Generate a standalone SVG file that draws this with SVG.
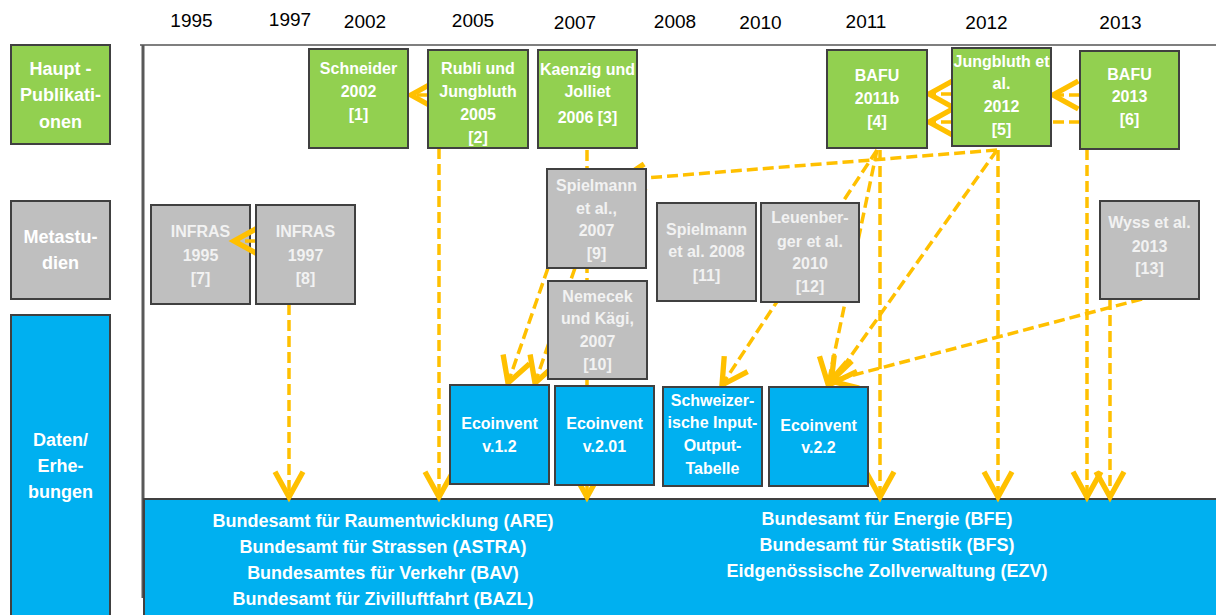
<svg xmlns="http://www.w3.org/2000/svg" width="1216" height="615" viewBox="0 0 1216 615">
<style>
.yr{font-family:"Liberation Sans",Arial,sans-serif;font-size:19px;fill:#000;text-anchor:middle}
.box{stroke:#404040;stroke-width:2}
.g{fill:#92d050}.gr{fill:#bfbfbf}.b{fill:#00b0f0}
.t{font-family:"Liberation Sans",Arial,sans-serif;font-weight:bold;font-size:16px;fill:#fff;text-anchor:middle}
.tg{fill:#f2f2f2}
.lab{font-family:"Liberation Sans",Arial,sans-serif;font-weight:bold;font-size:18px;fill:#fff;text-anchor:middle}
.big{font-family:"Liberation Sans",Arial,sans-serif;font-weight:bold;font-size:18px;fill:#fff;text-anchor:middle}
.c{fill:none;stroke:#ffc000;stroke-width:3.5;stroke-dasharray:11 5;marker-end:url(#ah)}
</style>
<defs>
<marker id="ah" markerUnits="userSpaceOnUse" markerWidth="40" markerHeight="40" viewBox="-25 -15 30 30" refX="0" refY="0" orient="auto" overflow="visible">
<path d="M-19,-10.5 L0,0 L-19,10.5" fill="none" stroke="#ffc000" stroke-width="4" stroke-dasharray="none"/>
</marker>
</defs>
<rect width="1216" height="615" fill="#fff"/>
<g id="years">
<text class="yr" x="191.5" y="27">1995</text>
<text class="yr" x="290" y="26">1997</text>
<text class="yr" x="365" y="28">2002</text>
<text class="yr" x="473" y="27">2005</text>
<text class="yr" x="575" y="29">2007</text>
<text class="yr" x="675" y="28">2008</text>
<text class="yr" x="760.5" y="29">2010</text>
<text class="yr" x="866" y="28">2011</text>
<text class="yr" x="986.5" y="29">2012</text>
<text class="yr" x="1120.5" y="29">2013</text>
</g>
<g id="axes">
<line x1="140" y1="45" x2="1216" y2="45" stroke="#7f7f7f" stroke-width="2"/>
<line x1="143" y1="45" x2="143" y2="598" stroke="#595959" stroke-width="3"/>
</g>
<g id="labels">
<g id="lab-haupt"><rect class="box g" x="11" y="45" width="99" height="99"/>
<text class="lab" x="60.5" y="75">Haupt -</text><text class="lab" x="60.5" y="101">Publikati-</text><text class="lab" x="60.5" y="128">onen</text></g>
<g id="lab-meta"><rect class="box gr" x="11" y="201" width="99" height="98"/>
<text class="lab tg" x="60.5" y="243">Metastu-</text><text class="lab tg" x="60.5" y="269">dien</text></g>
<g id="lab-daten"><rect class="box b" x="11" y="315" width="99" height="310"/>
<text class="lab" x="60.5" y="446">Daten/</text><text class="lab" x="60.5" y="472">Erhe-</text><text class="lab" x="60.5" y="498">bungen</text></g>
</g>
<g id="behoerden">
<rect class="box b" x="144" y="499" width="1080" height="130"/>
<text class="big" x="383" y="527">Bundesamt für Raumentwicklung (ARE)</text>
<text class="big" x="383" y="553">Bundesamt für Strassen (ASTRA)</text>
<text class="big" x="383" y="579">Bundesamtes für Verkehr (BAV)</text>
<text class="big" x="383" y="605">Bundesamt für Zivilluftfahrt (BAZL)</text>
<text class="big" x="887" y="525">Bundesamt für Energie (BFE)</text>
<text class="big" x="887" y="551">Bundesamt für Statistik (BFS)</text>
<text class="big" x="887" y="577">Eidgenössische Zollverwaltung (EZV)</text>
</g>
<g id="n7"><rect class="box gr" x="151" y="205" width="99" height="99"/>
<text class="t tg" x="200.5" y="237">INFRAS</text><text class="t tg" x="200.5" y="261">1995</text><text class="t tg" x="200.5" y="284">[7]</text></g>
<g id="connectors">
<path class="c" d="M428,95 L411,95"/>
<path class="c" d="M256,241 L234,241"/>
<path class="c" d="M952,94 L929,94"/>
<path class="c" d="M1080,122 L929,122"/>
<path class="c" d="M1080,95 L1053,95"/>
<path class="c" d="M289,304 L289,497"/>
<path class="c" d="M439,148 L439,497"/>
<path class="c" d="M587,150 L587,497"/>
<path class="c" d="M548,268 L508,383"/>
<path class="c" d="M575,268 L535,383"/>
<path class="c" d="M997,150 L620,180"/>
<path class="c" d="M877,150 L722,385"/>
<path class="c" d="M877,150 L828,384"/>
<path class="c" d="M880,150 L880,497"/>
<path class="c" d="M997,150 L831,384"/>
<path class="c" d="M998,150 L998,497"/>
<path class="c" d="M1142,299 L831,381"/>
<path class="c" d="M1087,149 L1087,497"/>
<path class="c" d="M1110,299 L1110,497"/>
</g>
<g id="n1"><rect class="box g" x="309" y="49" width="99" height="99"/>
<text class="t" x="358.5" y="74">Schneider</text><text class="t" x="358.5" y="97">2002</text><text class="t" x="358.5" y="120">[1]</text></g>
<g id="n2"><rect class="box g" x="428" y="50" width="100" height="98"/>
<text class="t" x="478" y="74">Rubli und</text><text class="t" x="478" y="97">Jungbluth</text><text class="t" x="478" y="120">2005</text><text class="t" x="478" y="143">[2]</text></g>
<g id="n3"><rect class="box g" x="538" y="50" width="99" height="98"/>
<text class="t" x="587.5" y="75">Kaenzig und</text><text class="t" x="587.5" y="97">Jolliet</text><text class="t" x="587.5" y="123">2006 [3]</text></g>
<g id="n4"><rect class="box g" x="827" y="50" width="100" height="98"/>
<text class="t" x="877" y="81">BAFU</text><text class="t" x="877" y="104">2011b</text><text class="t" x="877" y="127">[4]</text></g>
<g id="n5"><rect class="box g" x="952" y="48" width="99" height="98"/>
<text class="t" x="1001.5" y="67">Jungbluth et</text><text class="t" x="1001.5" y="89">al.</text><text class="t" x="1001.5" y="112">2012</text><text class="t" x="1001.5" y="135">[5]</text></g>
<g id="n6"><rect class="box g" x="1080" y="51" width="99" height="98"/>
<text class="t" x="1129.5" y="80">BAFU</text><text class="t" x="1129.5" y="102">2013</text><text class="t" x="1129.5" y="125">[6]</text></g>
<g id="n8"><rect class="box gr" x="256" y="205" width="99" height="99"/>
<text class="t tg" x="305.5" y="237">INFRAS</text><text class="t tg" x="305.5" y="261">1997</text><text class="t tg" x="305.5" y="284">[8]</text></g>
<g id="n9"><rect class="box gr" x="547" y="169" width="99" height="99"/>
<text class="t tg" x="596.5" y="191">Spielmann</text><text class="t tg" x="596.5" y="214">et al.,</text><text class="t tg" x="596.5" y="236">2007</text><text class="t tg" x="596.5" y="259">[9]</text></g>
<g id="n10"><rect class="box gr" x="548" y="281" width="99" height="98"/>
<text class="t tg" x="597.5" y="302">Nemecek</text><text class="t tg" x="597.5" y="324">und Kägi,</text><text class="t tg" x="597.5" y="347">2007</text><text class="t tg" x="597.5" y="370">[10]</text></g>
<g id="n11"><rect class="box gr" x="657" y="203" width="99" height="98"/>
<text class="t tg" x="706.5" y="235">Spielmann</text><text class="t tg" x="706.5" y="257">et al. 2008</text><text class="t tg" x="706.5" y="281">[11]</text></g>
<g id="n12"><rect class="box gr" x="761" y="203" width="98" height="99"/>
<text class="t tg" x="810" y="223">Leuenber-</text><text class="t tg" x="810" y="247">ger et al.</text><text class="t tg" x="810" y="269">2010</text><text class="t tg" x="810" y="292">[12]</text></g>
<g id="n13"><rect class="box gr" x="1100" y="201" width="99" height="98"/>
<text class="t tg" x="1149.5" y="228">Wyss et al.</text><text class="t tg" x="1149.5" y="252">2013</text><text class="t tg" x="1149.5" y="274">[13]</text></g>
<g id="d1"><rect class="box b" x="450" y="385" width="99" height="99"/>
<text class="t" x="499.5" y="429">Ecoinvent</text><text class="t" x="499.5" y="452">v.1.2</text></g>
<g id="d2"><rect class="box b" x="555" y="386" width="99" height="99"/>
<text class="t" x="604.5" y="429">Ecoinvent</text><text class="t" x="604.5" y="452">v.2.01</text></g>
<g id="d3"><rect class="box b" x="663" y="387" width="99" height="99"/>
<text class="t" x="712.5" y="406">Schweizer-</text><text class="t" x="712.5" y="428">ische Input-</text><text class="t" x="712.5" y="451">Output-</text><text class="t" x="712.5" y="474">Tabelle</text></g>
<g id="d4"><rect class="box b" x="769" y="387" width="99" height="99"/>
<text class="t" x="818.5" y="431">Ecoinvent</text><text class="t" x="818.5" y="453">v.2.2</text></g>
</svg>
